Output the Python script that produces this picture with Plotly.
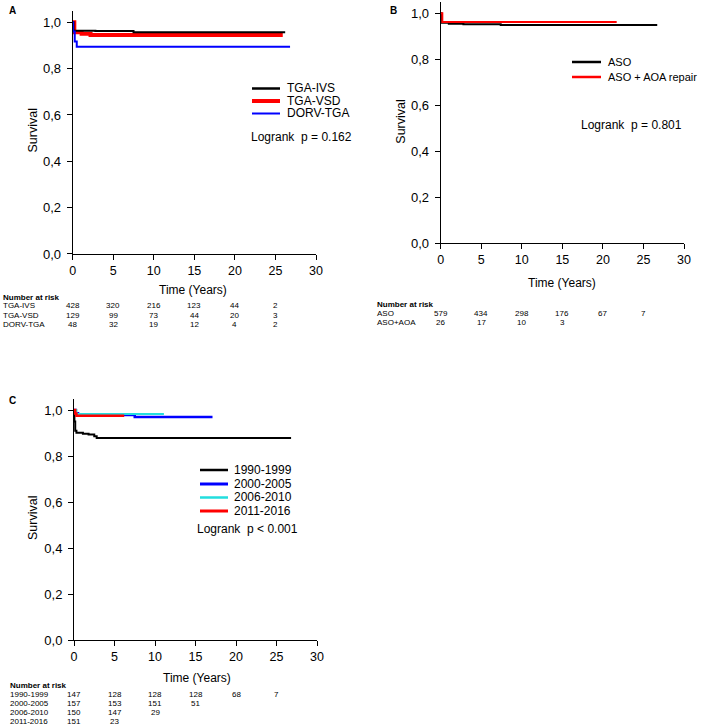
import plotly.graph_objects as go

W, H = 709, 726
FONT = "Liberation Sans, Arial, sans-serif"

# ---------------- data ----------------
# Panel A
a_ivs_t = [0, 0.1, 2.8, 7.5, 26.2]
a_ivs_s = [1.0, 0.964, 0.962, 0.957, 0.957]
a_vsd_t = [0, 0.2, 1.1, 2.2, 25.9]
a_vsd_s = [1.0, 0.957, 0.951, 0.945, 0.945]
a_dorv_t = [0, 0.05, 0.25, 0.5, 26.8]
a_dorv_s = [1.0, 0.96, 0.917, 0.895, 0.895]
# Panel B
b_aso_t = [0, 0.1, 1.0, 2.8, 7.4, 26.7]
b_aso_s = [1.0, 0.959, 0.955, 0.952, 0.949, 0.949]
b_aoa_t = [0, 0.2, 21.7]
b_aoa_s = [1.0, 0.962, 0.962]
# Panel C
c_90_t = [0, 0.05, 0.15, 0.3, 1.1, 1.8, 2.5, 2.8, 26.8]
c_90_s = [1.0, 0.95, 0.91, 0.901, 0.897, 0.893, 0.886, 0.878, 0.878]
c_00_t = [0, 0.2, 0.5, 7.5, 17.1]
c_00_s = [1.0, 0.986, 0.978, 0.970, 0.970]
c_06_t = [0, 0.3, 11.1]
c_06_s = [1.0, 0.983, 0.983]
c_11_t = [0, 0.15, 0.3, 6.2]
c_11_s = [1.0, 0.985, 0.975, 0.975]

x_ticks = [0, 5, 10, 15, 20, 25, 30]
y_ticks = [0.0, 0.2, 0.4, 0.6, 0.8, 1.0]
y_ticktext = ["0,0", "0,2", "0,4", "0,6", "0,8", "1,0"]
risk_times = [0, 5, 10, 15, 20, 25]

a_names = ["TGA-IVS", "TGA-VSD", "DORV-TGA"]
a_risk = [[428, 320, 216, 123, 44, 2], [129, 99, 73, 44, 20, 3], [48, 32, 19, 12, 4, 2]]
b_names = ["ASO", "ASO + AOA repair"]
b_risk_names = ["ASO", "ASO+AOA"]
b_risk = [[579, 434, 298, 176, 67, 7], [26, 17, 10, 3]]
c_names = ["1990-1999", "2000-2005", "2006-2010", "2011-2016"]
c_risk = [[147, 128, 128, 128, 68, 7], [157, 153, 151, 51], [150, 147, 29], [151, 23]]

# ---------------- helpers ----------------
def px(x):
    return x / W

def py(y):
    return 1 - y / H

fig = go.Figure()
annotations = []
shapes = []

def add_curve(t, s, color, width, xa, ya):
    fig.add_trace(go.Scatter(x=t, y=s, mode="lines", line=dict(color=color, width=width, shape="hv"),
                             xaxis=xa, yaxis=ya, showlegend=False, hoverinfo="skip"))

# panel geometry (pixels): x0, x1 (for 0..30), yb (value 0), yt (value 1)
panels = {
    "A": dict(x0=72.7, x1=316.0, yb=254.0, yt=22.3),
    "B": dict(x0=440.7, x1=684.0, yb=243.3, yt=13.3),
    "C": dict(x0=74.0, x1=317.0, yb=640.0, yt=410.0),
}
YMAX = 1.05

axis_common = dict(showline=True, linecolor="black", linewidth=1, ticks="outside", ticklen=5,
                   tickwidth=1, tickcolor="black", showgrid=False, zeroline=False,
                   automargin=False, fixedrange=True)

layout_axes = {}
for i, (k, p) in enumerate(panels.items()):
    suffix = "" if i == 0 else str(i + 1)
    unit = p["yb"] - p["yt"]
    top_px = p["yb"] - unit * YMAX
    layout_axes["xaxis" + suffix] = dict(axis_common, domain=[px(p["x0"]), px(p["x1"])], range=[0, 30],
                                         tickvals=x_ticks, anchor="y" + suffix,
                                         tickfont=dict(family=FONT, size=12.5, color="black"))
    layout_axes["yaxis" + suffix] = dict(axis_common, domain=[py(p["yb"]), py(top_px)], range=[0, YMAX],
                                         tickvals=y_ticks, ticktext=y_ticktext, anchor="x" + suffix,
                                         ticklabelstandoff=3,
                                         tickfont=dict(family=FONT, size=13, color="black"))

# ---------------- curves ----------------
add_curve(a_vsd_t, a_vsd_s, "#ff0000", 4, "x", "y")
add_curve(a_ivs_t, a_ivs_s, "#000000", 2, "x", "y")
add_curve(a_dorv_t, a_dorv_s, "#0000ff", 2, "x", "y")

add_curve(b_aso_t, b_aso_s, "#000000", 2, "x2", "y2")
add_curve(b_aoa_t, b_aoa_s, "#ff0000", 2, "x2", "y2")

add_curve(c_90_t, c_90_s, "#000000", 2, "x3", "y3")
add_curve(c_00_t, c_00_s, "#0000ff", 2.5, "x3", "y3")
add_curve(c_06_t, c_06_s, "#22dede", 2, "x3", "y3")
add_curve(c_11_t, c_11_s, "#ff0000", 2.5, "x3", "y3")

# ---------------- text ----------------
def text(x, y, s, size=12, xanchor="left", bold=False, angle=0, xref="paper"):
    annotations.append(dict(x=x if xref != "paper" else px(x), y=py(y), xref=xref, yref="paper",
                            text=("<b>%s</b>" % s) if bold else s, showarrow=False,
                            xanchor=xanchor, yanchor="middle", textangle=angle, borderpad=0,
                            font=dict(family=FONT, size=size, color="black")))

# panel labels
text(12, 10, "A", size=10, xanchor="center", bold=True)
text(393, 11, "B", size=10, xanchor="center", bold=True)
text(12, 400, "C", size=10, xanchor="center", bold=True)

# axis titles
text(32.5, 131, "Survival", size=12.5, xanchor="center", angle=-90)
text(193, 290, "Time (Years)", size=12, xanchor="center")
text(400.7, 122, "Survival", size=12.5, xanchor="center", angle=-90)
text(562, 283, "Time (Years)", size=12, xanchor="center")
text(33, 518, "Survival", size=12.5, xanchor="center", angle=-90)
text(197, 678, "Time (Years)", size=12, xanchor="center")

# legends (keys drawn as short line shapes)
def legend(xl0, xl1, xt, ys, names, colors, widths, size=12):
    for yy, nm, c, w in zip(ys, names, colors, widths):
        shapes.append(dict(type="line", xref="paper", yref="paper", x0=px(xl0), x1=px(xl1),
                           y0=py(yy), y1=py(yy), line=dict(color=c, width=w)))
        text(xt, yy, nm, size=size)

legend(252, 280, 286, [88.5, 101, 113.5], a_names, ["#000000", "#ff0000", "#0000ff"], [2.5, 4, 2])
text(250, 137, "Logrank  p = 0.162", size=12)
legend(572, 601, 607, [62, 77], b_names, ["#000000", "#ff0000"], [2.5, 2.5], size=11)
text(580, 125, "Logrank  p = 0.801", size=12)
legend(200, 228, 233, [470, 484, 497.5, 511], c_names, ["#000000", "#0000ff", "#22dede", "#ff0000"],
       [2.5, 3, 2.5, 3])
text(196, 529, "Logrank  p < 0.001", size=12)

# number at risk tables
def risk_table(xlab, yhead, ys, labels, rows, xa):
    text(xlab, yhead, "Number at risk", size=8, bold=True)
    for yy, lab, row in zip(ys, labels, rows):
        text(xlab, yy, lab, size=8)
        for t, v in zip(risk_times, row):
            text(t, yy, str(v), size=8, xanchor="center", xref=xa)

risk_table(2, 297, [305.7, 315, 324.3], a_names, a_risk, "x")
risk_table(376, 304, [313.3, 322.3], b_risk_names, b_risk, "x2")
risk_table(9, 685, [694.3, 703.7, 712.7, 721.5], c_names, c_risk, "x3")

fig.update_layout(template="none", width=W, height=H,
                  margin=dict(l=0, r=0, t=0, b=0, pad=0, autoexpand=False),
                  paper_bgcolor="white", plot_bgcolor="white", showlegend=False,
                  annotations=annotations, shapes=shapes, **layout_axes)

fig.write_html("out.html", config={"displayModeBar": False},
               post_script="document.body.style.margin='0px';document.body.style.overflow='hidden';")
